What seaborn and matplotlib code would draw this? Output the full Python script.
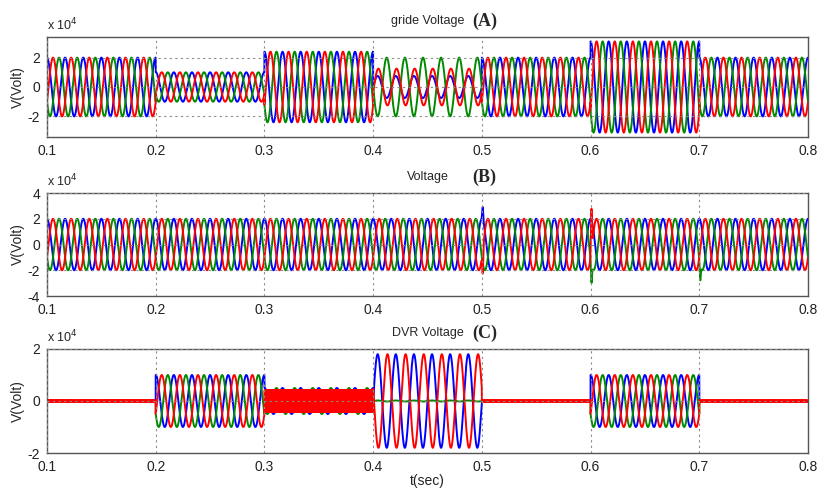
"""
Three-phase DVR simulation traces: grid voltage, load voltage, DVR voltage.
"""

import numpy as np
import pandas as pd

import matplotlib
matplotlib.use("Agg")
import matplotlib.pyplot as plt
import seaborn as sns

sns.set_style("white")
plt.rcParams["font.family"] = ["Liberation Sans", "DejaVu Sans"]

# --- data (voltages in units of 1e4 V) ---
T_EDGES = [0.1, 0.2, 0.3, 0.4, 0.5, 0.6, 0.7, 0.8]
PHASES = ["blue", "green", "red"]

# panel A: grid voltage, per segment
A_FREQ = [60, 60, 60, 60, 60, 60, 60]
A_AMP_BLUE = [2.0, 1.0, 2.4, 0.75, 2.0, 3.1, 2.0]
A_AMP_GREEN = [2.0, 1.0, 2.4, 2.0, 2.0, 3.1, 2.0]
A_AMP_RED = [2.0, 1.0, 2.4, 1.25, 2.0, 3.1, 2.0]
A_ANG_BLUE = [90, 90, 90, 0, 90, 90, 90]
A_ANG_GREEN = [210, 210, 210, 180, 210, 210, 210]
A_ANG_RED = [-30, -30, -30, -15, -30, -30, -30]

# panel B: load voltage (balanced) plus switching transients
B_FREQ = 60
B_AMP = 2.0
B_SPIKE_T = [0.5, 0.5, 0.6, 0.6, 0.7]
B_SPIKE_PHASE = ["blue", "red", "red", "green", "green"]
B_SPIKE_VAL = [1.0, -1.8, 3.2, -1.5, -1.3]

# panel C: DVR injected voltage, per segment
C_FREQ_BLUE = [60, 60, 60, 60, 60, 60, 60]
C_FREQ_GREEN = [60, 60, 60, 60, 60, 60, 60]
C_FREQ_RED = [700, 60, 60, 60, 700, 60, 700]
C_AMP_BLUE = [0.0, 1.0, 0.5, 1.8, 0.0, 1.0, 0.0]
C_AMP_GREEN = [0.0, 1.0, 0.5, 0.02, 0.0, 1.0, 0.0]
C_AMP_RED = [0.04, 1.0, 0.5, 1.8, 0.04, 1.0, 0.04]
C_ANG_BLUE = [90, 90, 90, 0, 90, 90, 90]
C_ANG_GREEN = [210, 210, 210, 0, 210, 210, 210]
C_ANG_RED = [-30, -30, -30, 165, -30, -30, -30]
# high-frequency switching ripple riding on the red phase, 0.3-0.4 s
C_RIPPLE_T = (0.3, 0.4)
C_RIPPLE_FREQ = 1100
C_RIPPLE_AMP = 0.42

COLORS = {"blue": "#0000ff", "green": "#008a00", "red": "#ff0000"}
DT = 2e-5


def _segmented_wave(freqs, amps, angles):
    """Stitch per-segment sinusoids along the time axis."""
    t = np.arange(T_EDGES[0], T_EDGES[-1], DT)
    v = np.zeros_like(t)
    for i in range(len(T_EDGES) - 1):
        m = (t >= T_EDGES[i]) & (t < T_EDGES[i + 1])
        v[m] = amps[i] * np.sin(2 * np.pi * freqs[i] * t[m] + np.deg2rad(angles[i]))
    return t, v


def _frame(waves):
    rows = []
    for ph, (t, v) in waves.items():
        rows.append(pd.DataFrame({"t": t, "v": v, "phase": ph}))
    return pd.concat(rows, ignore_index=True)


n = len(T_EDGES) - 1
df_a = _frame({
    "blue": _segmented_wave(A_FREQ, A_AMP_BLUE, A_ANG_BLUE),
    "green": _segmented_wave(A_FREQ, A_AMP_GREEN, A_ANG_GREEN),
    "red": _segmented_wave(A_FREQ, A_AMP_RED, A_ANG_RED),
})

b_waves = {
    "blue": _segmented_wave([B_FREQ] * n, [B_AMP] * n, [90] * n),
    "green": _segmented_wave([B_FREQ] * n, [B_AMP] * n, [210] * n),
    "red": _segmented_wave([B_FREQ] * n, [B_AMP] * n, [-30] * n),
}
for ts, ph, val in zip(B_SPIKE_T, B_SPIKE_PHASE, B_SPIKE_VAL):
    t, v = b_waves[ph]
    b_waves[ph] = (t, v + val * np.exp(-((t - ts - 0.0008) / 0.0006) ** 2))
df_b = _frame(b_waves)

c_waves = {
    "blue": _segmented_wave(C_FREQ_BLUE, C_AMP_BLUE, C_ANG_BLUE),
    "green": _segmented_wave(C_FREQ_GREEN, C_AMP_GREEN, C_ANG_GREEN),
    "red": _segmented_wave(C_FREQ_RED, C_AMP_RED, C_ANG_RED),
}
t, v = c_waves["red"]
m = (t >= C_RIPPLE_T[0]) & (t < C_RIPPLE_T[1])
v = v.copy()
v[m] = C_RIPPLE_AMP * np.sin(2 * np.pi * C_RIPPLE_FREQ * t[m])
c_waves["red"] = (t, v)
df_c = _frame(c_waves)

fig = plt.figure(figsize=(8.19, 4.9), dpi=100)
L, W = 47 / 819, 761 / 819
specs = [
    (df_a, (1 - 137 / 490, 100 / 490), (-3.4, 3.4), [-2, 0, 2], "gride Voltage", "(A)"),
    (df_b, (1 - 296 / 490, 103 / 490), (-4, 4), [-4, -2, 0, 2, 4], "Voltage", "(B)"),
    (df_c, (1 - 453 / 490, 104 / 490), (-2, 2), [-2, 0, 2], "DVR Voltage", "(C)"),
]

for i, (df, (bot, h), ylim, yticks, title, tag) in enumerate(specs):
    ax = fig.add_axes([L, bot, W, h])
    sns.lineplot(data=df, x="t", y="v", hue="phase", hue_order=PHASES,
                 palette=COLORS, estimator=None, sort=False, legend=False,
                 linewidth=1.4, ax=ax)
    ax.set_xlim(0.1, 0.8)
    ax.set_ylim(*ylim)
    ax.set_xticks(T_EDGES)
    ax.set_xticklabels([f"{x:g}" for x in T_EDGES])
    ax.set_yticks(yticks)
    ax.set_yticklabels([f"{y:g}" for y in yticks])
    ax.grid(True, linestyle=(0, (2, 3)), color="#8a8a8a", linewidth=0.8)
    ax.set_axisbelow(False)
    for s in ax.spines.values():
        s.set_color("#555555")
        s.set_linewidth(1.0)
    ax.tick_params(axis="both", labelsize=10, length=0, pad=5, colors="#222222")
    ax.set_xlabel("")
    ax.set_ylabel("V(Volt)", fontsize=10, labelpad=2)
    ax.text(0.0, 1.04, r"x 10$^4$", transform=ax.transAxes, fontsize=9,
            ha="left", va="bottom")
    ax.text(0.5, 1.10, title, transform=ax.transAxes, fontsize=9,
            ha="center", va="bottom")
    ax.text(472 / 819, bot + h + 0.014, tag, transform=fig.transFigure,
            fontsize=13, fontweight="bold", family="Liberation Serif",
            ha="left", va="bottom")

fig.text(427 / 819, 1 - 481 / 490, "t(sec)", fontsize=10, ha="center",
         va="center", color="#222222")

fig.savefig("out.png", dpi=100, facecolor="white")
